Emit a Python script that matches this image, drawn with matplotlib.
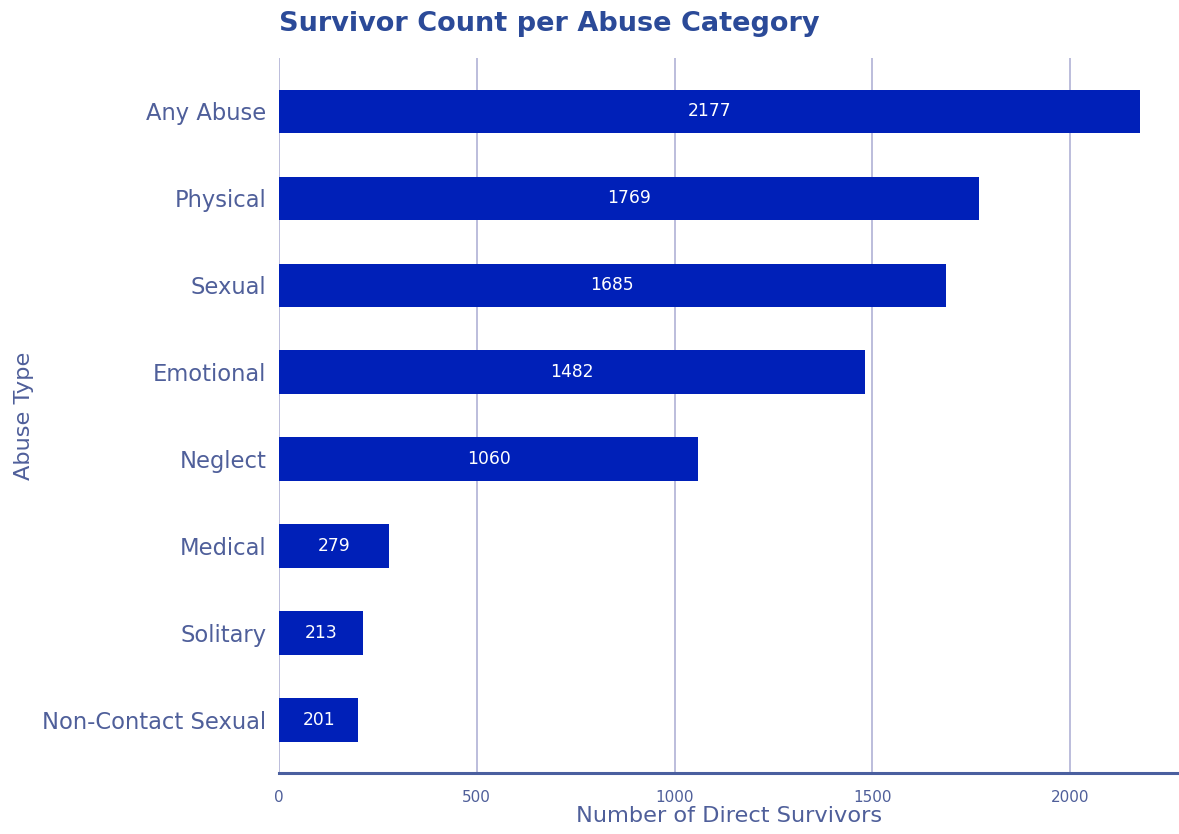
import matplotlib.pyplot as plt

categories = ["Any Abuse", "Physical", "Sexual", "Emotional", "Neglect",
              "Medical", "Solitary", "Non-Contact Sexual"]
counts = [2177, 1769, 1685, 1482, 1060, 279, 213, 201]

bar_color = "#0020b8"
text_color = "#4f5f9a"
title_color = "#2b4a98"

fig = plt.figure(figsize=(11.79, 8.34), dpi=100)
ax = fig.add_axes([0.2366, 0.0731, 0.7634, 0.857])

bars = ax.barh(categories, counts, height=0.5, color=bar_color, zorder=3)
ax.bar_label(bars, labels=[str(c) for c in counts], label_type="center",
             color="white", fontsize=12.3)

ax.set_xlim(0, 2275)
ax.set_ylim(7.61, -0.61)
ax.set_xticks([0, 500, 1000, 1500, 2000])
ax.grid(axis="x", color="#b0b2d6", linewidth=1.2, zorder=0)
ax.grid(axis="y", visible=False)

for side in ["top", "right", "left"]:
    ax.spines[side].set_visible(False)
ax.spines["bottom"].set_color("#4a5f9f")
ax.spines["bottom"].set_linewidth(2.2)

ax.tick_params(axis="y", length=0, labelsize=16.3, labelcolor=text_color, pad=9)
ax.tick_params(axis="x", length=0, labelsize=11, labelcolor=text_color, pad=12)

ax.set_xlabel("Number of Direct Survivors", fontsize=16.2, color=text_color, labelpad=1)
ax.set_ylabel("Abuse Type", fontsize=16.2, color=text_color, labelpad=6)
ax.set_title("Survivor Count per Abuse Category", fontsize=19.5, fontweight="bold",
             color=title_color, loc="left", pad=20)

fig.savefig("out.png", dpi=100)
